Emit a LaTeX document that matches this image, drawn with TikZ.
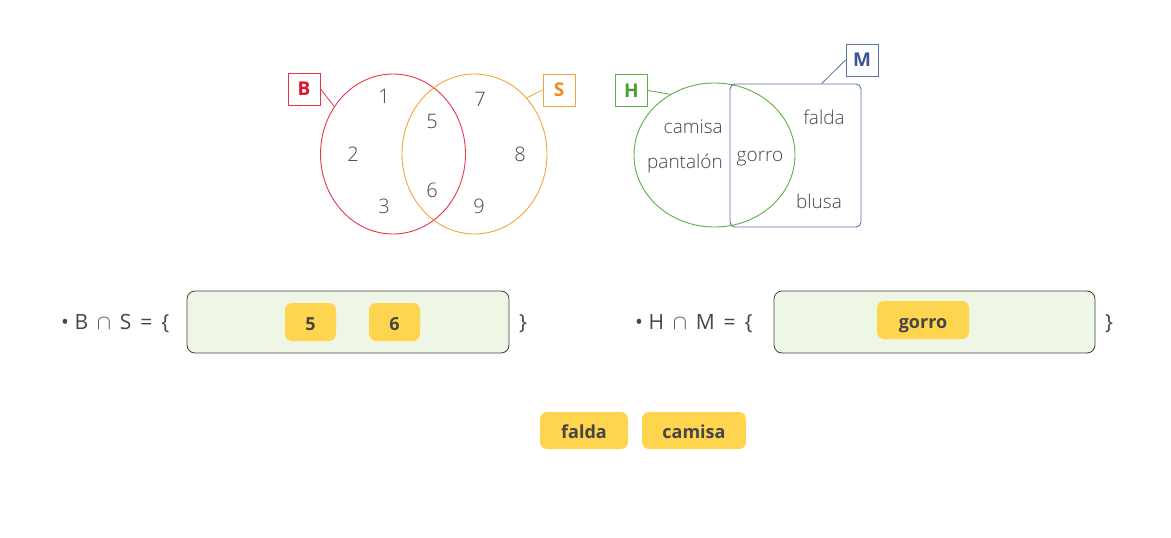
\documentclass[tikz,border=0pt]{standalone}
\usepackage{fontspec}
\setmainfont{Open Sans}
\newfontfamily\lightf{Open Sans Light}
\usetikzlibrary{shapes.geometric}
\definecolor{txt}{HTML}{454545}
\definecolor{cred}{HTML}{E8354A}
\definecolor{credt}{HTML}{E0112B}
\definecolor{corange}{HTML}{F4A33C}
\definecolor{corangt}{HTML}{F08C1E}
\definecolor{cgreen}{HTML}{5BAF45}
\definecolor{cgreent}{HTML}{4A9E2F}
\definecolor{cblue}{HTML}{5A72A8}
\definecolor{cbluet}{HTML}{3C5494}
\definecolor{chip}{HTML}{FFD54F}
\definecolor{boxfill}{HTML}{EEF6E5}
\tikzset{
  setell/.style={ellipse, draw, line width=0.9pt, inner sep=0pt},
  lab/.style={draw, line width=0.9pt, minimum width=32pt, minimum height=32pt, inner sep=0pt, font=\fontsize{19}{22}\selectfont\bfseries},
  elem/.style={text=txt, inner sep=0pt, font=\lightf\fontsize{20}{22}\selectfont},
  word/.style={text=txt, inner sep=0pt, font=\lightf\fontsize{19}{22}\selectfont},
  ansbox/.style={draw=black!75, fill=boxfill, rounded corners=8pt, line width=0.8pt, minimum height=62pt, inner sep=0pt},
  chipbox/.style={fill=chip, rounded corners=7pt, text=txt, inner sep=0pt, minimum height=38pt, text height=16pt, text depth=0pt, font=\fontsize{18}{20}\selectfont\bfseries},
  eqtext/.style={text=txt, inner sep=0pt, anchor=west, font=\fontsize{21}{24}\selectfont},
  conn/.style={line width=0.8pt}
}
\begin{document}
\begin{tikzpicture}[x=1pt,y=-1pt]
\useasboundingbox (0,0) rectangle (1171,538);
% Venn B, S
\node[setell, draw=cred, minimum width=145pt, minimum height=160pt] (B) at (393,154) {};
\node[setell, draw=corange, minimum width=145pt, minimum height=160pt] (S) at (474.5,154) {};
\node[lab, draw=cred, text=credt] (Blab) at (304,89) {B};
\node[lab, draw=corange, text=corangt] (Slab) at (559,90) {S};
\draw[conn, cred] (Blab.east) -- (B.141);
\draw[conn, corange] (Slab.west) -- (S.47);
\node[elem] (n1) at (384,96) {1};
\node[elem] (n2) at (353,154) {2};
\node[elem] (n3) at (384,206) {3};
\node[elem] (n5) at (432,121) {5};
\node[elem] (n6) at (432,190) {6};
\node[elem] (n7) at (480,99) {7};
\node[elem] (n8) at (520,154) {8};
\node[elem] (n9) at (479,206) {9};
% Venn H, M
\node[setell, draw=cgreen, minimum width=161pt, minimum height=144pt] (H) at (714.5,155) {};
\node[draw=cblue, line width=0.9pt, rounded corners=5pt, minimum width=131pt, minimum height=143pt, inner sep=0pt] (M) at (795.5,155.5) {};
\node[lab, draw=cgreen, text=cgreent] (Hlab) at (631.5,90.5) {H};
\node[lab, draw=cblue, text=cbluet] (Mlab) at (862,60) {M};
\draw[conn, cgreen] (Hlab.east) -- (H.126);
\draw[conn, cblue] (Mlab.west) -- (M.70);
\node[word, anchor=east] (w1) at (723,127) {camisa};
\node[word, anchor=east] (w2) at (723,164) {pantalón};
\node[word] (w3) at (760,159) {gorro};
\node[word] (w4) at (824,117) {falda};
\node[word] (w5) at (819,201) {blusa};
% equations
\node[eqtext] (eq1) at (61,324) {\textbullet\ B\, $\cap$\, S\, =\, \{};
\node[ansbox, minimum width=322pt] (box1) at (348,322) {};
\node[chipbox, minimum width=51pt] (c5) at (310.5,322) {5};
\node[chipbox, minimum width=51pt] (c6) at (394.5,322) {6};
\node[eqtext] (cl1) at (519,324) {\}};
\node[eqtext] (eq2) at (635,324) {\textbullet\ H\, $\cap$\, M\, =\, \{};
\node[ansbox, minimum width=321pt] (box2) at (934.5,322) {};
\node[chipbox, minimum width=92pt] (cg) at (923,320) {gorro};
\node[eqtext] (cl2) at (1105,324) {\}};
% choices
\node[chipbox, minimum width=88pt, minimum height=37pt] (cf) at (584,430.5) {falda};
\node[chipbox, minimum width=104pt, minimum height=37pt] (cc) at (694,430.5) {camisa};
\end{tikzpicture}
\end{document}
